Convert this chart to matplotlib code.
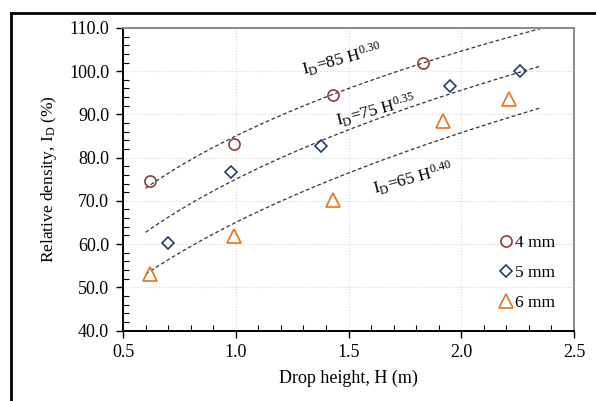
import numpy as np
import matplotlib
matplotlib.use("Agg")
import matplotlib.pyplot as plt
from matplotlib.ticker import MultipleLocator, FormatStrFormatter
from matplotlib.lines import Line2D

plt.rcParams['font.family'] = ['Liberation Serif', 'DejaVu Serif']
plt.rcParams['mathtext.fontset'] = 'custom'
plt.rcParams['mathtext.rm'] = 'Liberation Serif'
plt.rcParams['mathtext.it'] = 'Liberation Serif:italic'

# measured points
h_4mm = [0.62, 0.99, 1.43, 1.83]
id_4mm = [74.7, 83.1, 94.4, 101.9]
h_5mm = [0.70, 0.98, 1.38, 1.95, 2.26]
id_5mm = [60.2, 76.6, 82.6, 96.6, 100.0]
h_6mm = [0.62, 0.99, 1.43, 1.92, 2.21]
id_6mm = [53.0, 61.9, 70.3, 88.5, 93.5]

# fitted curves I_D = a * H^b
fit_a = [85, 75, 65]
fit_b = [0.30, 0.35, 0.40]
fit_labels = [r'$\mathrm{I_D}$=85 H$^{0.30}$', r'$\mathrm{I_D}$=75 H$^{0.35}$', r'$\mathrm{I_D}$=65 H$^{0.40}$']
label_pos = [(1.47, 102.6), (1.62, 91.0), (1.785, 75.2)]

fig = plt.figure(figsize=(5.96, 4.01), dpi=100)
ax = fig.add_axes([0.2064, 0.1758, 0.7567, 0.7544])

# outer frame (only top and left visible)
fig.add_artist(Line2D([11/596, 1.0], [1 - 13/401, 1 - 13/401], color='black', lw=2, transform=fig.transFigure))
fig.add_artist(Line2D([11/596, 11/596], [0, 1 - 13/401], color='black', lw=2, transform=fig.transFigure))

hh = np.linspace(0.6, 2.35, 100)
for a, b in zip(fit_a, fit_b):
    ax.plot(hh, a * hh ** b, color='#333333', lw=0.9, ls=(0, (3, 2)), zorder=2)

for (x, y), t in zip(label_pos, fit_labels):
    ax.text(x, y, t, fontsize=12.5, rotation=15, ha='center', va='center', rotation_mode='anchor')

ax.plot(h_4mm, id_4mm, 'o', mfc='none', mec='#8b3a3a', mew=1.2, ms=8, ls='none', label='4 mm', zorder=3)
ax.plot(h_5mm, id_5mm, 'D', mfc='none', mec='#203f6a', mew=1.2, ms=6, ls='none', label='5 mm', zorder=3)
ax.plot(h_6mm, id_6mm, '^', mfc='none', mec='#e8731e', mew=1.2, ms=9.5, ls='none', label='6 mm', zorder=3)

ax.set_xlim(0.5, 2.5)
ax.set_ylim(40, 110)
ax.xaxis.set_major_locator(MultipleLocator(0.5))
ax.xaxis.set_minor_locator(MultipleLocator(0.1))
ax.yaxis.set_major_locator(MultipleLocator(10))
ax.yaxis.set_minor_locator(MultipleLocator(2))
ax.xaxis.set_major_formatter(FormatStrFormatter('%.1f'))
ax.yaxis.set_major_formatter(FormatStrFormatter('%.1f'))
ax.tick_params(which='major', direction='out', length=5, width=1, labelsize=13, pad=5)
ax.tick_params(which='minor', direction='in', length=4, width=0.8)
ax.tick_params(top=False, right=False, which='both')

ax.grid(True, which='major', color='#d5d5d5', ls=':', lw=0.8)
ax.set_axisbelow(True)

for s in ['left', 'bottom']:
    ax.spines[s].set_color('black')
    ax.spines[s].set_linewidth(1.4)
for s in ['top', 'right']:
    ax.spines[s].set_color('#8a8a8a')
    ax.spines[s].set_linewidth(1.4)

ax.set_xlabel('Drop height, H (m)', fontsize=13, labelpad=6)
ax.set_ylabel(r'Relative density, $\mathrm{I_D}$ (%)', fontsize=12.5, labelpad=7)

ax.legend(loc='lower right', bbox_to_anchor=(0.985, 0.025), frameon=False, fontsize=12.5,
          handletextpad=0.0, labelspacing=0.8, handlelength=1.0, borderpad=0.2)

fig.savefig('out.png', dpi=100)
